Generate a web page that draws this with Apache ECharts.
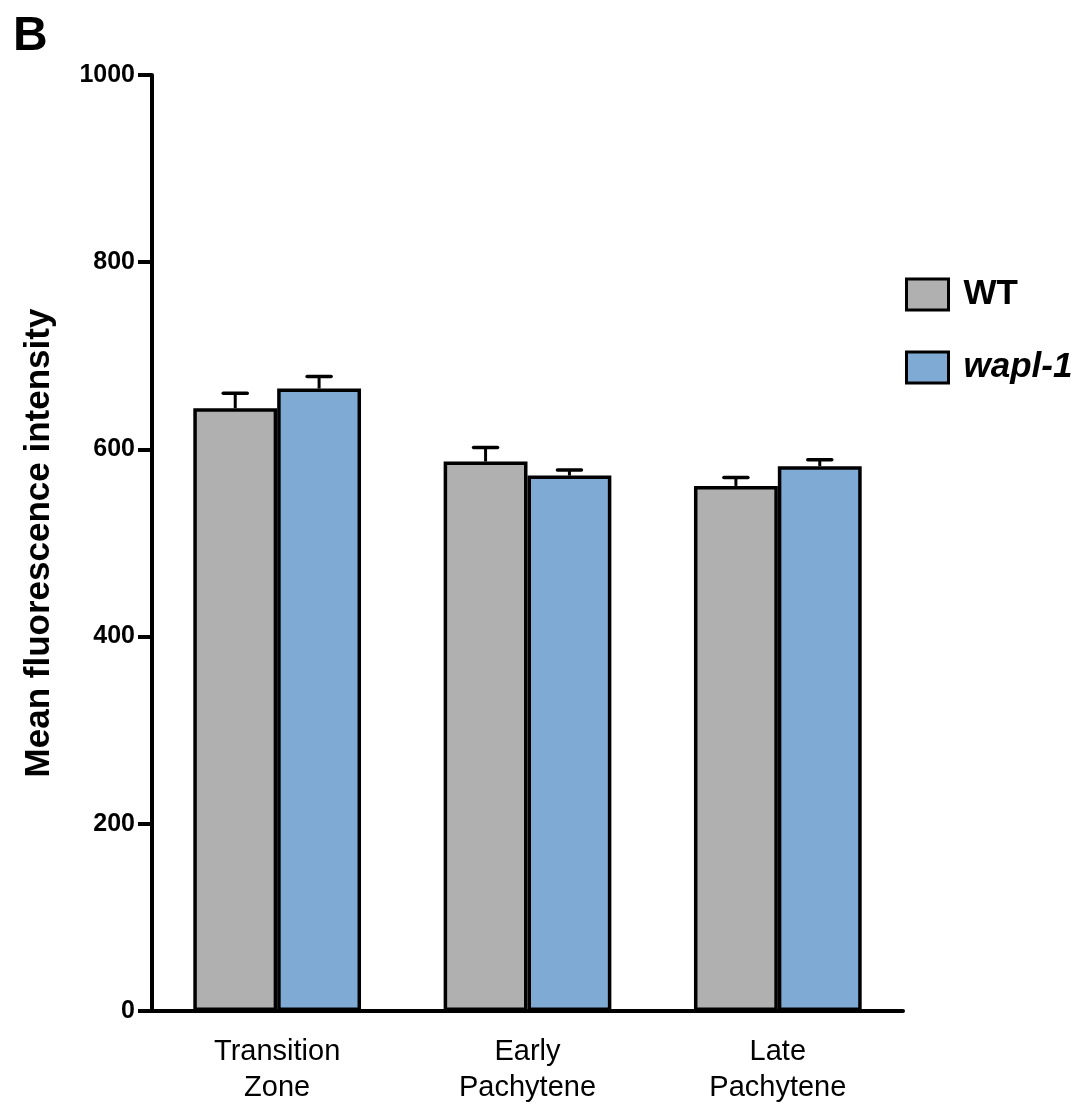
<!DOCTYPE html>
<html><head><meta charset="utf-8">
<script src="https://cdn.jsdelivr.net/npm/echarts@6/dist/echarts.min.js"></script>
<style>html,body{margin:0;padding:0;background:#fff}#c{width:1091px;height:1106px}</style>
</head><body><div id="c"></div>
<script>
const categories = ['Transition\nZone', 'Early\nPachytene', 'Late\nPachytene'];
const wtValues = [644, 587, 561];
const wtErrors = [16, 15, 9];
const waplValues = [665, 572, 582];
const waplErrors = [13, 6, 7];
const yTicks = [0, 200, 400, 600, 800, 1000];

const FONT = 'Liberation Sans, Arial, sans-serif';
const gapPct = 0.33;

function errSeries(vals, errs, sideSign, name) {
  return {
    type: 'custom', name: name + '_err', z: 1,
    data: vals.map((v, i) => [i, v, v + errs[i]]),
    renderItem: function (params, api) {
      const band = api.size([1, 0])[0];
      const bw = band * (1 - gapPct) / 2;
      const base = api.coord([api.value(0), api.value(1)]);
      const top = api.coord([api.value(0), api.value(2)]);
      const x = base[0] + sideSign * bw / 2;
      const cap = 12;
      return {
        type: 'group',
        children: [
          { type: 'line', shape: { x1: x, y1: base[1], x2: x, y2: top[1] }, style: { stroke: '#000', lineWidth: 3 } },
          { type: 'line', shape: { x1: x - cap, y1: top[1], x2: x + cap, y2: top[1] }, style: { stroke: '#000', lineWidth: 3.5, lineCap: 'round' } }
        ]
      };
    }
  };
}

const chart = echarts.init(document.getElementById('c'));
chart.setOption({
  animation: false,
  backgroundColor: '#fff',
  title: { text: 'B', left: 8, top: 8, textStyle: { fontFamily: FONT, fontSize: 48, fontWeight: 'bold', color: '#000' } },
  grid: { left: 152, right: 188, top: 75, bottom: 93 },
  legend: {
    orient: 'vertical', left: 900, top: 272, itemGap: 38, itemWidth: 42, itemHeight: 31,
    icon: 'rect',
    data: [
      { name: 'WT', textStyle: { fontFamily: FONT, fontSize: 35, fontWeight: 'bold', color: '#000' } },
      { name: 'wapl-1', textStyle: { fontFamily: FONT, fontSize: 35, fontWeight: 'bold', fontStyle: 'italic', color: '#000' } }
    ],
    itemStyle: { borderColor: '#000', borderWidth: 3 },
    textStyle: { padding: [0, 0, 0, 10] }
  },
  xAxis: {
    type: 'category', data: categories,
    axisLine: { lineStyle: { color: '#000', width: 4 } },
    axisTick: { show: false },
    axisLabel: { fontFamily: FONT, fontSize: 29, color: '#000', margin: 23, lineHeight: 36 }
  },
  yAxis: {
    type: 'value', min: 0, max: 1000, interval: 200,
    name: 'Mean fluorescence intensity', nameLocation: 'middle', nameGap: 95,
    nameTextStyle: { fontFamily: FONT, fontSize: 35, fontWeight: 'bold', color: '#000' },
    axisLine: { show: true, lineStyle: { color: '#000', width: 4 } },
    axisTick: { show: true, length: 14, lineStyle: { color: '#000', width: 4 } },
    splitLine: { show: false },
    axisLabel: { fontFamily: FONT, fontSize: 25, fontWeight: 'bold', color: '#000', margin: 17,
      formatter: v => yTicks.includes(v) ? String(v) : '' }
  },
  series: [
    { name: 'WT', type: 'bar', data: wtValues, barGap: '0%', barCategoryGap: '33%', z: 2,
      itemStyle: { color: '#B0B0B0', borderColor: '#000', borderWidth: 3.5 } },
    { name: 'wapl-1', type: 'bar', data: waplValues, z: 2,
      itemStyle: { color: '#7FAAD3', borderColor: '#000', borderWidth: 3.5 } },
    errSeries(wtValues, wtErrors, -1, 'WT'),
    errSeries(waplValues, waplErrors, 1, 'wapl-1')
  ]
});
</script></body></html>
